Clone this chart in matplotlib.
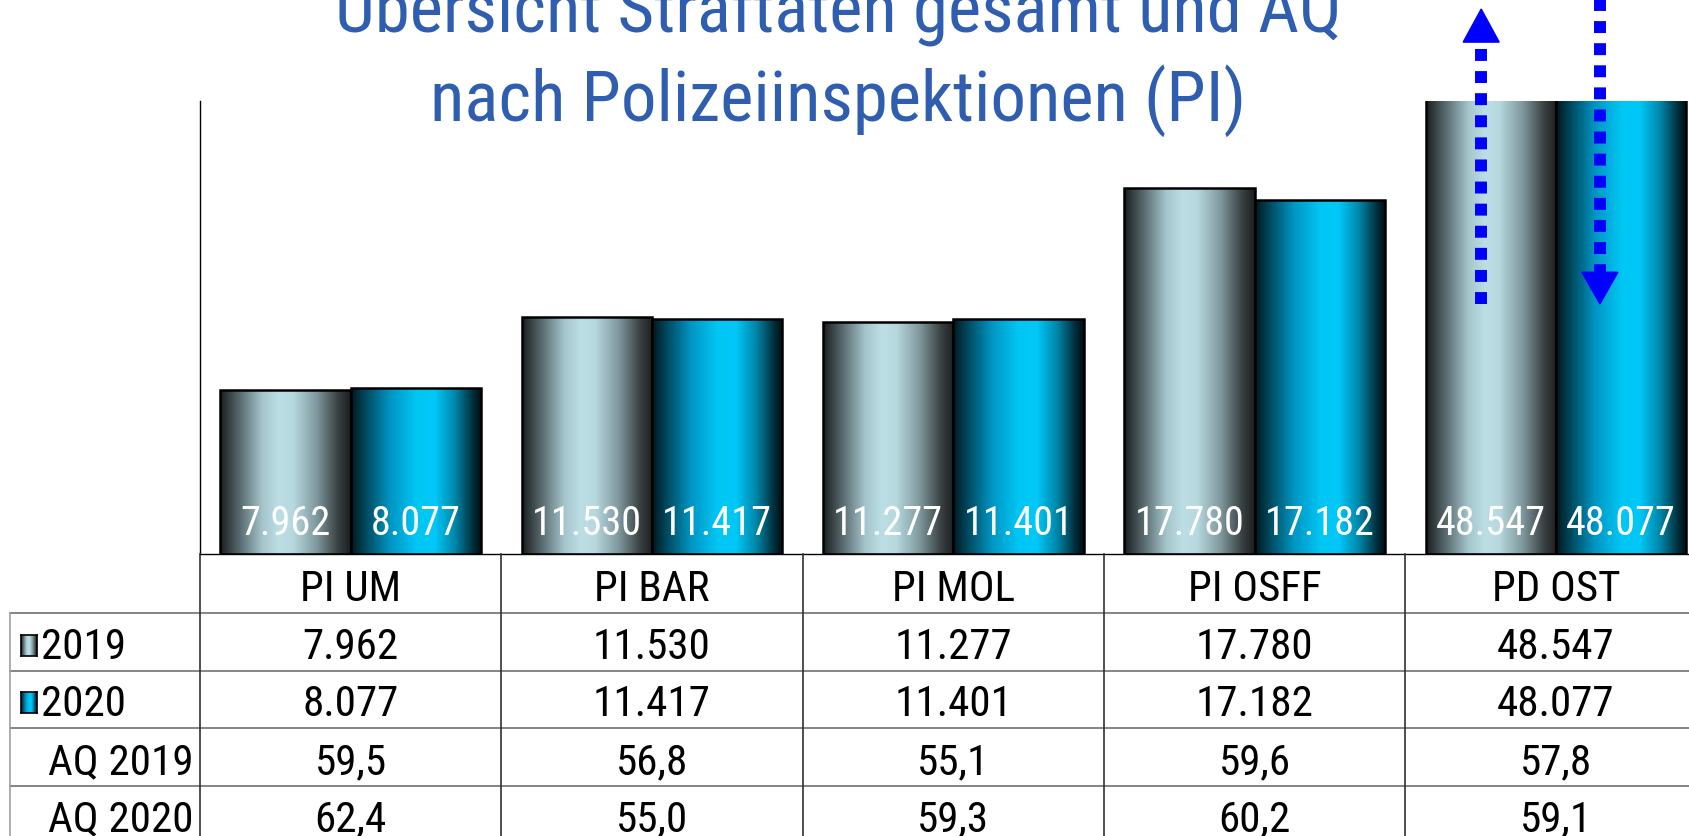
import numpy as np
import matplotlib
matplotlib.use('Agg')
import matplotlib.pyplot as plt
from matplotlib.colors import LinearSegmentedColormap
from matplotlib.transforms import blended_transform_factory
from matplotlib.patches import Polygon
from matplotlib.lines import Line2D
import matplotlib.font_manager as fm

# Daten
kategorien = ['PI UM', 'PI BAR', 'PI MOL', 'PI OSFF', 'PD OST']
werte_2019 = [7962, 11530, 11277, 17780, 48547]
werte_2020 = [8077, 11417, 11401, 17182, 48077]
aq_2019 = [59.5, 56.8, 55.1, 59.6, 57.8]
aq_2020 = [62.4, 55.0, 59.3, 60.2, 59.1]
zeilen = ['2019', '2020', 'AQ 2019', 'AQ 2020']
titel = ['Übersicht Straftaten gesamt und AQ', 'nach Polizeiinspektionen (PI)']

# schmale Schrift suchen (wie Arial Narrow)
wunsch = ['liberationsansnarrow-regular', 'arialn.ttf', 'robotocondensed-regular',
          'notosans-condensed.ttf', 'opensans-condensed', 'opensans_condensed-regular',
          'dejavusanscondensed.ttf']
dateien = [f.fname for f in fm.fontManager.ttflist]
fp = None
for w in wunsch:
    treffer = [d for d in dateien if w in d.lower().replace('\\', '/').split('/')[-1]]
    if treffer:
        fp = fm.FontProperties(fname=treffer[0])
        break
if fp is None:
    fp = fm.FontProperties(family='Liberation Sans')

def schrift(size):
    p = fp.copy()
    p.set_size(size)
    return p

def fmt_zahl(v):
    return f'{v:,}'.replace(',', '.')

def fmt_aq(v):
    return f'{v:.1f}'.replace('.', ',')

# Farbverlaeufe
cm_2019 = LinearSegmentedColormap.from_list('g2019', [
    (0.0, '#1a1e1f'), (0.14, '#55666a'), (0.32, '#a3c4ca'), (0.45, '#bcdfe5'),
    (0.56, '#b6d8de'), (0.74, '#7f989d'), (0.9, '#3a4243'), (1.0, '#1c1e1e')])
cm_2020 = LinearSegmentedColormap.from_list('g2020', [
    (0.0, '#001820'), (0.1, '#004458'), (0.3, '#0096c4'), (0.5, '#00c6f4'),
    (0.64, '#00c8f8'), (0.8, '#0084a6'), (0.93, '#00303e'), (1.0, '#000c10')])
verlauf = np.linspace(0, 1, 256).reshape(1, -1)

W, H = 1689, 837
gruppe = 301.3
fig = plt.figure(figsize=(W / 100, H / 100), dpi=100)
ax = fig.add_axes([200 / W, 1 - 555 / H, 5 * gruppe / W, (555 - 102) / H])

x = np.arange(len(kategorien))
bw = 0.4325
ymax = 22000
tr = blended_transform_factory(ax.transData, ax.transAxes)

for werte, off, cmap in [(werte_2019, -bw / 2, cm_2019), (werte_2020, bw / 2, cm_2020)]:
    bars = ax.bar(x + off, werte, bw, facecolor='none', edgecolor='black', linewidth=1.8, zorder=3)
    for b in bars:
        x0, w, h = b.get_x(), b.get_width(), b.get_height()
        im = ax.imshow(verlauf, cmap=cmap, extent=[x0, x0 + w, 0, min(h, ymax)], aspect='auto',
                       zorder=2, interpolation='bilinear')
        im.set_clip_path(b)
    for xi, v in zip(x + off, werte):
        ax.text(xi, 0.044, fmt_zahl(v), transform=tr, ha='center', va='baseline',
                color='white', fontproperties=schrift(29), zorder=4)

ax.set_xlim(-0.5, len(kategorien) - 0.5)
ax.set_ylim(0, ymax)
ax.set_xticks([])
ax.set_yticks([])
for s in ['top', 'right']:
    ax.spines[s].set_visible(False)
ax.spines['left'].set_linewidth(1.0)
ax.spines['bottom'].set_linewidth(1.0)

# Pfeile (Veraenderung PD OST)
blau = '#0000ff'
hw = 18 / gruppe
pfeile = [(x[-1] - bw / 2 - 0.0315, 0.552, 1.13, 1.203),
          (x[-1] + bw / 2 - 0.07, 1.23, 0.622, 0.552)]
for px, y0, y1, spitze in pfeile:
    ax.add_line(Line2D([px, px], [y0, y1], transform=tr, color=blau, linewidth=8.6,
                       dashes=(1.0, 0.85), dash_capstyle='butt', clip_on=False, zorder=5))
    ax.add_patch(Polygon([[px - hw, y1], [px + hw, y1], [px, spitze]], closed=True,
                         transform=tr, color=blau, clip_on=False, zorder=5))

# Tabelle
tt = blended_transform_factory(ax.transData, fig.transFigure)
def fy(p):
    return 1 - p / H

zeilen_y = [555, 614, 672, 729, 787]
for yy in zeilen_y[1:]:
    fig.add_artist(Line2D([10 / W, 1], [fy(yy), fy(yy)], color='#707070', linewidth=1.2))
fig.add_artist(Line2D([10 / W, 10 / W], [fy(614), 0], color='#a0a0a0', linewidth=1.2))
for k in range(len(kategorien)):
    fig.add_artist(Line2D([k - 0.5, k - 0.5], [fy(555), 0], transform=tt,
                          color='#303030', linewidth=1.2))

for i, k in enumerate(kategorien):
    fig.text(x[i], fy(601), k, transform=tt, ha='center', va='baseline',
             fontproperties=schrift(31))

zeilen_werte = [[fmt_zahl(v) for v in werte_2019], [fmt_zahl(v) for v in werte_2020],
                [fmt_aq(v) for v in aq_2019], [fmt_aq(v) for v in aq_2020]]
basis = [659, 716, 774, 831]
for r, (name, vals) in enumerate(zip(zeilen, zeilen_werte)):
    for i, v in enumerate(vals):
        fig.text(x[i], fy(basis[r]), v, transform=tt, ha='center', va='baseline',
                 fontproperties=schrift(31))
    if r < 2:
        cmap = cm_2019 if r == 0 else cm_2020
        sq_ax = fig.add_axes([21 / W, fy(basis[r] - 2), 16 / W, 21 / H])
        sq_ax.imshow(verlauf, cmap=cmap, aspect='auto', extent=[0, 1, 0, 1])
        sq_ax.set_xticks([])
        sq_ax.set_yticks([])
        for s in sq_ax.spines.values():
            s.set_linewidth(1.2)
        fig.text(41 / W, fy(basis[r]), name, ha='left', va='baseline', fontproperties=schrift(31))
    else:
        fig.text(193 / W, fy(basis[r]), name, ha='right', va='baseline', fontproperties=schrift(31))

# Titel
fig.text(838 / W, fy(32), titel[0], ha='center', va='baseline', fontproperties=schrift(51),
         color='#2f5db0')
fig.text(838 / W, fy(121), titel[1], ha='center', va='baseline', fontproperties=schrift(51),
         color='#2f5db0')

fig.savefig('out.png', dpi=100)
